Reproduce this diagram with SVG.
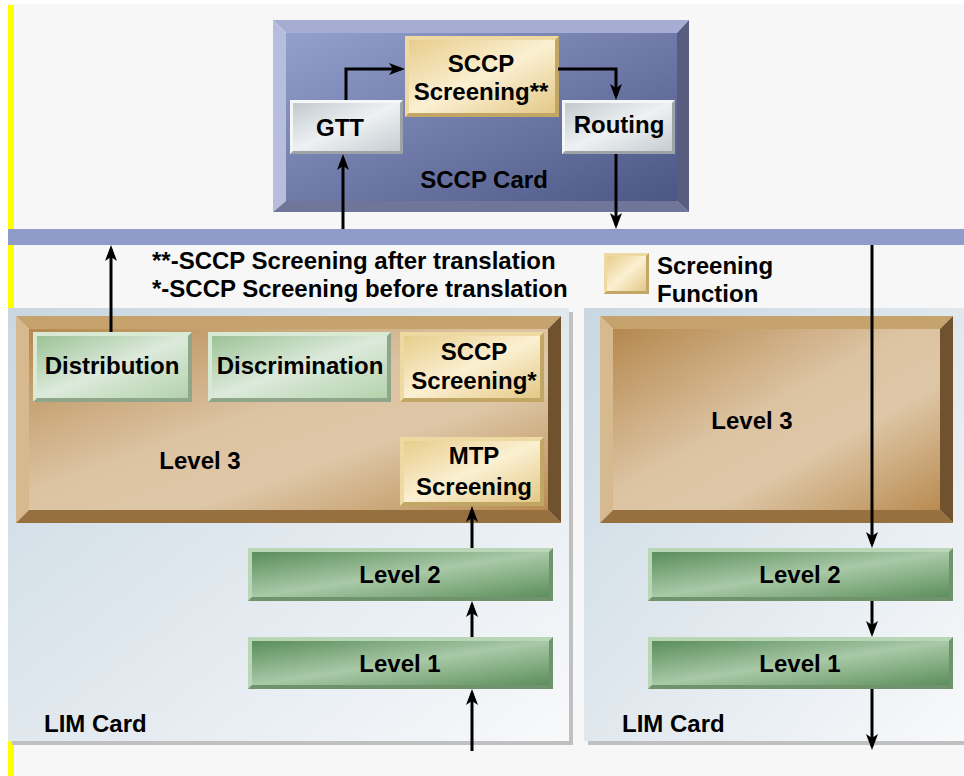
<svg xmlns="http://www.w3.org/2000/svg" width="964" height="776" viewBox="0 0 964 776">
<style>
text{font-family:"Liberation Sans",Arial,sans-serif;font-weight:bold;font-size:24px;fill:#000}
.c{text-anchor:middle}
.conn{fill:none;stroke:#000;stroke-width:3;marker-end:url(#ah)}
</style>
<defs>
<marker id="ah" markerUnits="userSpaceOnUse" markerWidth="16" markerHeight="12" refX="12" refY="6" orient="auto">
<path d="M0,0 L16,6 L0,12 L4,6 z" fill="#000"/>
</marker>
<linearGradient id="gBlue" x1="0" y1="0" x2="1" y2="1"><stop offset="0" stop-color="#939fcc"/><stop offset="1" stop-color="#4c5685"/></linearGradient>
<linearGradient id="gSilver" x1="0" y1="0" x2="1" y2="1"><stop offset="0" stop-color="#c2cacf"/><stop offset="0.5" stop-color="#eef1f3"/><stop offset="1" stop-color="#c5ccd1"/></linearGradient>
<linearGradient id="gGold" x1="0" y1="0" x2="1" y2="1"><stop offset="0" stop-color="#e8cd8c"/><stop offset="0.5" stop-color="#fbf0d2"/><stop offset="1" stop-color="#e4c888"/></linearGradient>
<linearGradient id="gLGreen" x1="0" y1="0" x2="1" y2="1"><stop offset="0" stop-color="#9cc296"/><stop offset="0.5" stop-color="#dceadb"/><stop offset="1" stop-color="#b3d2ab"/></linearGradient>
<linearGradient id="gDGreen" x1="0" y1="0" x2="1" y2="1"><stop offset="0" stop-color="#5a8d5c"/><stop offset="0.5" stop-color="#a9c9a7"/><stop offset="1" stop-color="#5c8f5c"/></linearGradient>
<linearGradient id="gBrown" x1="0" y1="0" x2="1" y2="1"><stop offset="0" stop-color="#b5884e"/><stop offset="0.45" stop-color="#dcc3a2"/><stop offset="0.65" stop-color="#dec7a7"/><stop offset="1" stop-color="#b98b51"/></linearGradient>
<linearGradient id="gLim" x1="0" y1="0" x2="1" y2="1"><stop offset="0" stop-color="#c8d7e1"/><stop offset="1" stop-color="#f8f9fb"/></linearGradient>
</defs>

<!-- background -->
<rect x="0" y="0" width="964" height="776" fill="#ffffff"/>
<rect x="8" y="4" width="956" height="772" fill="#f7f7f7"/>
<rect x="8" y="5" width="6" height="771" fill="#ffff00"/>

<!-- bus -->
<rect id="bus" x="8" y="229" width="956" height="16" fill="#8f9bc8"/>

<!-- LIM cards -->
<g id="limLeft">
<rect x="12" y="312" width="561" height="433" fill="#c0c0c0"/>
<rect x="8" y="308" width="561" height="433" fill="url(#gLim)"/>
<text x="44" y="732">LIM Card</text>
</g>
<g id="limRight">
<rect x="588" y="312" width="380" height="433" fill="#c0c0c0"/>
<rect x="584" y="308" width="380" height="433" fill="url(#gLim)"/>
<text x="622" y="732">LIM Card</text>
</g>

<!-- SCCP card -->
<g id="sccpCard">
<polygon points="273,20 689,20 677,33 286,33" fill="#a5add3"/>
<polygon points="273,20 286,33 286,201 273,212" fill="#b7bddd"/>
<polygon points="273,212 286,201 677,201 689,212" fill="#70769a"/>
<polygon points="689,20 689,212 677,201 677,33" fill="#585c7e"/>
<rect x="286" y="33" width="391" height="168" fill="url(#gBlue)"/>
<text class="c" x="484" y="188">SCCP Card</text>
</g>

<g id="gtt">
<rect x="290" y="100" width="113" height="54" fill="#9da3a7"/>
<polygon points="290,100 403,100 400,103 293,103 293,151 290,154" fill="#f4f6f7"/>
<rect x="293" y="103" width="107" height="48" fill="url(#gSilver)"/>
<text class="c" x="340" y="136">GTT</text>
</g>
<g id="sccpScreen2">
<rect x="405" y="36" width="154" height="81" fill="#c1a665"/>
<polygon points="405,36 559,36 555,40 409,40 409,113 405,117" fill="#eed9a3"/>
<rect x="409" y="40" width="146" height="73" fill="url(#gGold)"/>
<text class="c" x="481" y="72">SCCP</text>
<text class="c" x="481" y="100">Screening**</text>
</g>
<g id="routing">
<rect x="562" y="100" width="113" height="54" fill="#9da3a7"/>
<polygon points="562,100 675,100 672,103 565,103 565,151 562,154" fill="#f4f6f7"/>
<rect x="565" y="103" width="107" height="48" fill="url(#gSilver)"/>
<text class="c" x="619" y="133">Routing</text>
</g>

<!-- notes -->
<g id="notes">
<text x="152" y="269">**-SCCP Screening after translation</text>
<text x="152" y="297">*-SCCP Screening before translation</text>
</g>
<g id="legend">
<rect x="604" y="253" width="45" height="41" fill="#c1a665"/>
<polygon points="604,253 649,253 646,256 607,256 607,291 604,294" fill="#eed9a3"/>
<rect x="607" y="256" width="39" height="35" fill="url(#gGold)"/>
<text x="657" y="274">Screening</text>
<text x="657" y="302">Function</text>
</g>

<!-- Level 3 left -->
<g id="level3Left">
<polygon points="16,316 561,316 548,329 29,329" fill="#c6a26d"/>
<polygon points="16,316 29,329 29,510 16,523" fill="#d7b98f"/>
<polygon points="16,523 29,510 548,510 561,523" fill="#97703f"/>
<polygon points="561,316 561,523 548,510 548,329" fill="#70532e"/>
<rect x="29" y="329" width="519" height="181" fill="url(#gBrown)"/>
<text class="c" x="200" y="469">Level 3</text>
</g>
<g id="distribution">
<rect x="33" y="332" width="159" height="70" fill="#8fa68a"/>
<polygon points="33,332 192,332 188,336 37,336 37,398 33,402" fill="#d8ead4"/>
<rect x="37" y="336" width="151" height="62" fill="url(#gLGreen)"/>
<text class="c" x="112" y="374">Distribution</text>
</g>
<g id="discrimination">
<rect x="208" y="332" width="183" height="70" fill="#8fa68a"/>
<polygon points="208,332 391,332 387,336 212,336 212,398 208,402" fill="#d8ead4"/>
<rect x="212" y="336" width="175" height="62" fill="url(#gLGreen)"/>
<text class="c" x="300" y="374">Discrimination</text>
</g>
<g id="sccpScreen1">
<rect x="400" y="332" width="144" height="70" fill="#c1a665"/>
<polygon points="400,332 544,332 540,336 404,336 404,398 400,402" fill="#eed9a3"/>
<rect x="404" y="336" width="136" height="62" fill="url(#gGold)"/>
<text class="c" x="474" y="360">SCCP</text>
<text class="c" x="474" y="389">Screening*</text>
</g>
<g id="mtpScreen">
<rect x="400" y="437" width="144" height="69" fill="#c1a665"/>
<polygon points="400,437 544,437 540,441 404,441 404,502 400,506" fill="#eed9a3"/>
<rect x="404" y="441" width="136" height="61" fill="url(#gGold)"/>
<text class="c" x="474" y="464">MTP</text>
<text class="c" x="474" y="495">Screening</text>
</g>
<g id="level2Left">
<rect x="248" y="548" width="305" height="53" fill="#6f936d"/>
<polygon points="248,548 553,548 549,552 252,552 252,597 248,601" fill="#b9d6b6"/>
<rect x="252" y="552" width="297" height="45" fill="url(#gDGreen)"/>
<text class="c" x="400" y="583">Level 2</text>
</g>
<g id="level1Left">
<rect x="248" y="637" width="305" height="52" fill="#6f936d"/>
<polygon points="248,637 553,637 549,641 252,641 252,685 248,689" fill="#b9d6b6"/>
<rect x="252" y="641" width="297" height="44" fill="url(#gDGreen)"/>
<text class="c" x="400" y="672">Level 1</text>
</g>

<!-- Right LIM contents -->
<g id="level3Right">
<polygon points="600,316 953,316 940,329 613,329" fill="#c6a26d"/>
<polygon points="600,316 613,329 613,510 600,523" fill="#d7b98f"/>
<polygon points="600,523 613,510 940,510 953,523" fill="#97703f"/>
<polygon points="953,316 953,523 940,510 940,329" fill="#70532e"/>
<rect x="613" y="329" width="327" height="181" fill="url(#gBrown)"/>
<text class="c" x="752" y="429">Level 3</text>
</g>
<g id="level2Right">
<rect x="648" y="548" width="305" height="53" fill="#6f936d"/>
<polygon points="648,548 953,548 949,552 652,552 652,597 648,601" fill="#b9d6b6"/>
<rect x="652" y="552" width="297" height="45" fill="url(#gDGreen)"/>
<text class="c" x="800" y="583">Level 2</text>
</g>
<g id="level1Right">
<rect x="648" y="637" width="305" height="52" fill="#6f936d"/>
<polygon points="648,637 953,637 949,641 652,641 652,685 648,689" fill="#b9d6b6"/>
<rect x="652" y="641" width="297" height="44" fill="url(#gDGreen)"/>
<text class="c" x="800" y="672">Level 1</text>
</g>

<!-- connectors -->
<g id="connectors">
<path class="conn" d="M343,229 V158"/>
<path class="conn" d="M346,100 V69 H401"/>
<path class="conn" d="M558,69 H616 V96"/>
<path class="conn" d="M616,154 V225"/>
<path class="conn" d="M111,332 V249"/>
<path class="conn" d="M872,245 V544"/>
<path class="conn" d="M872,601 V633"/>
<path class="conn" d="M872,689 V746"/>
<path class="conn" d="M472,751 V693"/>
<path class="conn" d="M472,637 V605"/>
<path class="conn" d="M472,548 V510"/>
</g>
</svg>
